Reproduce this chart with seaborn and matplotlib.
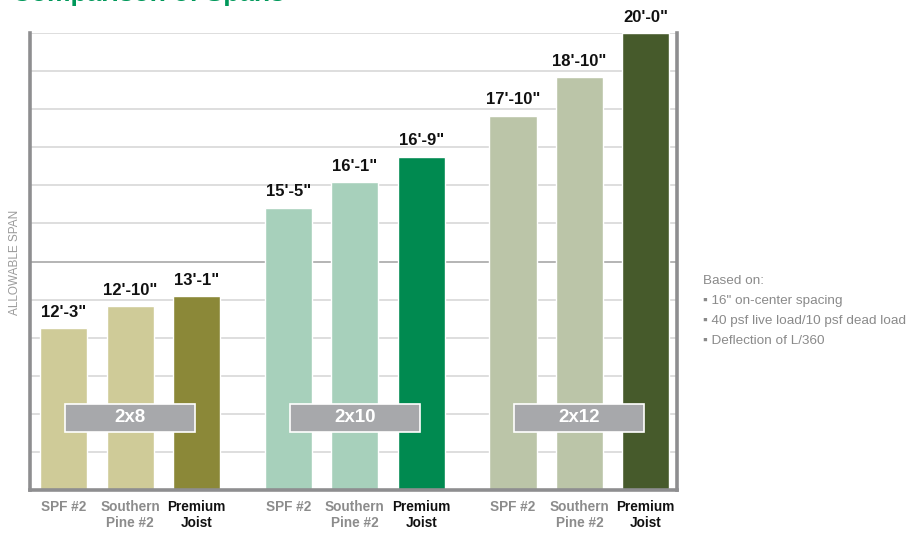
import numpy as np
import pandas as pd
import matplotlib
matplotlib.use("Agg")
import matplotlib.pyplot as plt
import matplotlib.transforms as mtransforms
from matplotlib.patches import Rectangle
import seaborn as sns

# ---------------- data ----------------
sizes = ["2x8", "2x10", "2x12"]
species = ["SPF #2", "Southern\nPine #2", "Premium\nJoist"]
# allowable spans in inches, per size group (SPF, Southern Pine, Premium)
span_2x8 = [147, 154, 157]
span_2x10 = [185, 193, 201]
span_2x12 = [214, 226, 240]
bar_colors = ["#cfcb98", "#cfcb98", "#8b8838",
              "#a7d0bb", "#a7d0bb", "#008a50",
              "#bbc5a8", "#bbc5a8", "#465a2b"]
notes = ["Based on:",
         "\u25aa 16\" on-center spacing",
         "\u25aa 40 psf live load/10 psf dead load",
         "\u25aa Deflection of L/360"]

GAP = 0.38  # extra space between size groups

rows = []
for g, (size, spans) in enumerate(zip(sizes, [span_2x8, span_2x10, span_2x12])):
    for i, (sp, v) in enumerate(zip(species, spans)):
        rows.append({"pos": g * (3 + GAP) + i, "size": size, "species": sp,
                     "span": v, "key": f"{size} {sp}"})
df = pd.DataFrame(rows)

def fmt_span(v):
    return f"{v // 12}'-{v % 12}\""

sns.set_theme(style="white")
plt.rcParams["font.family"] = ["Liberation Sans", "DejaVu Sans"]

fig = plt.figure(figsize=(9.19, 5.33), dpi=100)
ax = fig.add_axes([30 / 919, 43 / 533, 647 / 919, 457 / 533])

sns.barplot(data=df, x="pos", y="span", hue="key", palette=bar_colors,
            native_scale=True, dodge=False, width=0.71, saturation=1,
            legend=False, ax=ax)

ax.set_ylim(96, 240)
ax.set_xlim(-0.51, df["pos"].max() + 0.47)
ax.set_yticks(np.arange(96, 241, 12))
ax.set_yticklabels([])
ax.tick_params(left=False, bottom=False)
ax.set_axisbelow(True)
for yv in np.arange(108, 241, 12):
    c = "#a8a8a8" if yv == 168 else "#d8d8d8"
    ax.axhline(yv, color=c, lw=1.2, zorder=0)

for side in ["left", "bottom", "right"]:
    ax.spines[side].set_color("#8e8e90")
    ax.spines[side].set_linewidth(2.6)
ax.spines["top"].set_visible(False)

# value labels
for _, r in df.iterrows():
    ax.annotate(fmt_span(r["span"]), (r["pos"], r["span"]), xytext=(0, 6),
                textcoords="offset points", ha="center", va="bottom",
                fontsize=12, fontweight="bold", color="#111111")

# x labels
ax.set_xticks(df["pos"])
ax.set_xticklabels([])
ax.set_xlabel("")
for _, r in df.iterrows():
    prem = r["species"].startswith("Premium")
    ax.text(r["pos"], -0.022, r["species"], transform=ax.get_xaxis_transform(),
            ha="center", va="top", fontsize=9.8, fontweight="bold",
            color="#111111" if prem else "#8c8c8c", linespacing=1.15)

# size group boxes
trans = mtransforms.blended_transform_factory(ax.transData, ax.transAxes)
for g, size in enumerate(sizes):
    cx = g * (3 + GAP) + 1
    ax.add_patch(Rectangle((cx - 0.98, 0.127), 1.96, 0.061, transform=trans,
                           facecolor="#a7a8ab", edgecolor="white", lw=1.2,
                           zorder=5))
    ax.text(cx, 0.158, size, transform=trans, ha="center", va="center",
            fontsize=13.5, fontweight="bold", color="white", zorder=6)

ax.set_ylabel("")
fig.text(15 / 919, 1 - 262 / 533, "ALLOWABLE SPAN", rotation=90,
         ha="center", va="center", fontsize=8.5, color="#9a9a9a")

# title (cut at top like the source)
fig.text(12 / 919, 1 - 1 / 533, "Comparison of Spans", ha="left",
         va="baseline", fontsize=19, fontweight="bold", color="#00985a")

# notes
for k, line in enumerate(notes):
    fig.text(703 / 919, 1 - (281 + 20 * k) / 533, line, ha="left",
             va="center", fontsize=9.7, color="#8a8a8a")

fig.savefig("out.png", dpi=100)
